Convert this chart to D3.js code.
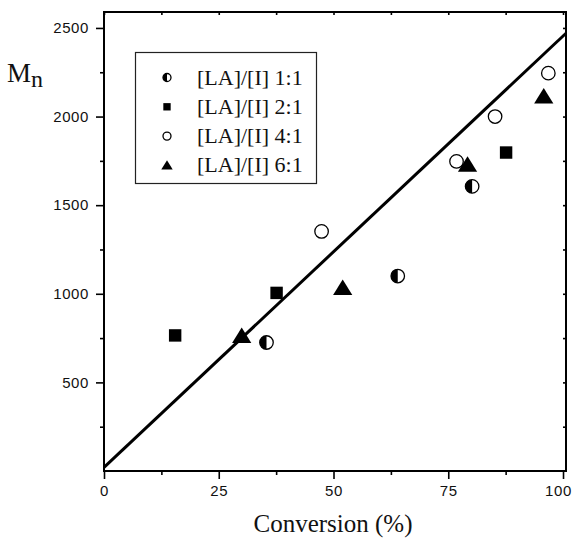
<!DOCTYPE html>
<html>
<head>
<meta charset="utf-8">
<script src="https://cdn.jsdelivr.net/npm/d3@7"></script>
<style>
  body { margin: 0; background: #fff; }
  svg { display: block; }
</style>
</head>
<body>
<div id="root"></div>
<script>
// values
const seriesNames = ['[LA]/[I] 1:1', '[LA]/[I] 2:1', '[LA]/[I] 4:1', '[LA]/[I] 6:1'];
const seriesSymbols = ['half', 'square', 'open', 'triangle'];
const conv11 = [35.4, 64.0, 80.2];
const mn11 = [725, 1100, 1606];
const conv21 = [15.5, 37.6, 87.6];
const mn21 = [765, 1005, 1797];
const conv41 = [47.4, 76.8, 85.2, 96.8];
const mn41 = [1352, 1747, 2000, 2245];
const conv61 = [30.0, 52.0, 79.2, 95.8];
const mn61 = [761, 1033, 1728, 2113];
const fitConv = [0, 100.65];
const fitMn = [20, 2470];
const xTicks = [0, 25, 50, 75, 100];
const xMinor = [12.5, 37.5, 62.5, 87.5];
const yTicks = [500, 1000, 1500, 2000, 2500];
const yMinor = [250, 750, 1250, 1750, 2250];

const Width = 575;
const Height = 539;
const Plot = { Left: 104, Right: 566, Top: 12, Bottom: 471 };
const Serif = '"Liberation Serif", "Times New Roman", serif';
const Sans = '"Liberation Sans", Arial, sans-serif';

const x = d3.scaleLinear().domain([0, 100.65]).range([Plot.Left, Plot.Right]);
const y = d3.scaleLinear().domain([0, 2590]).range([Plot.Bottom, Plot.Top]);

const svg = d3.select('#root')
    .append('svg')
    .attr('width', Width)
    .attr('height', Height);

// Axes: major ticks outward, minor shorter
const xAxis = svg.append('g')
    .attr('transform', `translate(0, ${Plot.Bottom})`)
    .call(d3.axisBottom(x).tickValues(xTicks).tickSize(8).tickPadding(6).tickFormat(d3.format('d')));
svg.append('g')
    .attr('transform', `translate(0, ${Plot.Bottom})`)
    .call(d3.axisBottom(x).tickValues(xMinor).tickSize(4).tickFormat(''));
const yAxis = svg.append('g')
    .attr('transform', `translate(${Plot.Left}, 0)`)
    .call(d3.axisLeft(y).tickValues(yTicks).tickSize(8).tickPadding(7).tickFormat(d3.format('d')));
svg.append('g')
    .attr('transform', `translate(${Plot.Left}, 0)`)
    .call(d3.axisLeft(y).tickValues(yMinor).tickSize(4).tickFormat(''));
// small inward ticks on top and right edges
svg.append('g')
    .attr('transform', `translate(0, ${Plot.Top})`)
    .call(d3.axisBottom(x).tickValues(xTicks.concat(xMinor)).tickSize(3).tickFormat(''));
svg.append('g')
    .attr('transform', `translate(${Plot.Right}, 0)`)
    .call(d3.axisLeft(y).tickValues(yTicks.concat(yMinor)).tickSize(3).tickFormat(''));

svg.selectAll('.domain').remove();
svg.selectAll('.tick line').attr('stroke', '#000').attr('stroke-width', 1.6);
[xAxis, yAxis].forEach(a => a.selectAll('text')
    .attr('font-family', Sans)
    .attr('font-size', 15)
    .attr('letter-spacing', 0.6)
    .attr('fill', '#111'));
// keep the last x label inside the window
xAxis.selectAll('.tick text').filter(d => d === 100).attr('dx', -5);

// frame
svg.append('rect')
    .attr('x', Plot.Left)
    .attr('y', Plot.Top)
    .attr('width', Plot.Right - Plot.Left)
    .attr('height', Plot.Bottom - Plot.Top)
    .attr('fill', 'none')
    .attr('stroke', '#000')
    .attr('stroke-width', 2);

// fit line
svg.append('line')
    .attr('x1', x(fitConv[0]))
    .attr('y1', y(fitMn[0]))
    .attr('x2', x(fitConv[1]))
    .attr('y2', y(fitMn[1]))
    .attr('stroke', '#000')
    .attr('stroke-width', 3);

function drawSymbol(g, kind, size) {
    const r = size / 2;
    if (kind === 'half') {
        g.append('circle').attr('r', r).attr('fill', '#fff').attr('stroke', '#000').attr('stroke-width', 1.3);
        g.append('path')
            .attr('d', `M0,${-r}A${r},${r} 0 0 0 0,${r}Z`)
            .attr('fill', '#000');
    } else if (kind === 'square') {
        g.append('rect').attr('x', -r * 0.92).attr('y', -r * 0.92)
            .attr('width', size * 0.92).attr('height', size * 0.92).attr('fill', '#000');
    } else if (kind === 'open') {
        g.append('circle').attr('r', r).attr('fill', '#fff').attr('stroke', '#000').attr('stroke-width', 1.3);
    } else {
        const h = size * 1.15;
        g.append('path')
            .attr('d', `M0,${-h * 0.55}L${h * 0.62},${h * 0.45}L${-h * 0.62},${h * 0.45}Z`)
            .attr('fill', '#000');
    }
}

const series = [
    { kind: 'half', xs: conv11, ys: mn11 },
    { kind: 'square', xs: conv21, ys: mn21 },
    { kind: 'open', xs: conv41, ys: mn41 },
    { kind: 'triangle', xs: conv61, ys: mn61 },
];

series.forEach(s => {
    s.xs.forEach((cv, i) => {
        const g = svg.append('g').attr('transform', `translate(${x(cv)}, ${y(s.ys[i])})`);
        drawSymbol(g, s.kind, 13.5);
    });
});

// legend
const legend = svg.append('g');
legend.append('rect')
    .attr('x', 135.5)
    .attr('y', 52.5)
    .attr('width', 181)
    .attr('height', 131)
    .attr('fill', '#fff')
    .attr('stroke', '#222')
    .attr('stroke-width', 1.2);
seriesNames.forEach((name, i) => {
    const cy = 77.5 + i * 29.3;
    const g = legend.append('g').attr('transform', `translate(167, ${cy})`);
    drawSymbol(g, seriesSymbols[i], 8);
    legend.append('text')
        .attr('x', 197)
        .attr('y', cy + 7)
        .attr('font-family', Serif)
        .attr('font-size', 22)
        .attr('fill', '#111')
        .text(name);
});

// axis titles
svg.append('text')
    .attr('x', 333)
    .attr('y', 532)
    .attr('text-anchor', 'middle')
    .attr('font-family', Serif)
    .attr('font-size', 25)
    .attr('fill', '#111')
    .text('Conversion (%)');

const yTitle = svg.append('text')
    .attr('x', 7)
    .attr('y', 82)
    .attr('font-family', Serif)
    .attr('font-size', 27)
    .attr('fill', '#111');
yTitle.append('tspan').text('M');
yTitle.append('tspan').attr('dy', 5).attr('font-size', 24).text('n');
</script>
</body>
</html>
